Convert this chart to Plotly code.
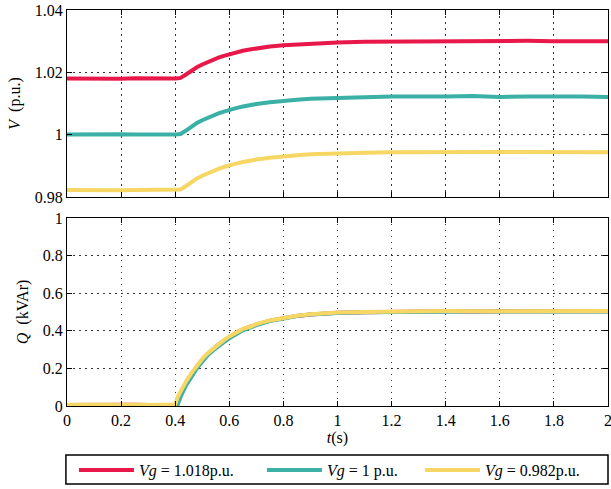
import plotly.graph_objects as go

t = [0, 0.05, 0.1, 0.15, 0.2, 0.25, 0.3, 0.35, 0.4, 0.41, 0.42, 0.44, 0.46, 0.48, 0.5,
     0.52, 0.54, 0.56, 0.58, 0.6, 0.625, 0.65, 0.675, 0.7, 0.75, 0.8, 0.85, 0.9, 0.95, 1.0,
     1.1, 1.2, 1.3, 1.4, 1.5, 1.6, 1.7, 1.8, 1.9, 2.0]

v_red = [1.0180, 1.0179, 1.0181, 1.0180, 1.0179, 1.0181, 1.0180, 1.0179, 1.0180, 1.0181,
         1.0182, 1.0193, 1.0205, 1.0216, 1.0225, 1.0233, 1.0241, 1.0247, 1.0253, 1.0258,
         1.0264, 1.0269, 1.0273, 1.0277, 1.0283, 1.0287, 1.0290, 1.0293, 1.0295, 1.0296,
         1.0298, 1.0299, 1.0300, 1.0301, 1.0300, 1.0300, 1.0301, 1.0300, 1.0301, 1.0300]
v_green = [1.0000, 1.0001, 0.9999, 1.0000, 1.0001, 1.0000, 0.9999, 1.0000, 1.0000, 1.0001,
           1.0002, 1.0013, 1.0026, 1.0037, 1.0046, 1.0054, 1.0062, 1.0068, 1.0074, 1.0080,
           1.0085, 1.0090, 1.0095, 1.0098, 1.0104, 1.0109, 1.0112, 1.0115, 1.0117, 1.0118,
           1.0120, 1.0122, 1.0121, 1.0122, 1.0124, 1.0121, 1.0122, 1.0123, 1.0122, 1.0121]
v_yellow = [0.9822, 0.9821, 0.9823, 0.9822, 0.9821, 0.9822, 0.9823, 0.9822, 0.9822, 0.9823,
            0.9824, 0.9835, 0.9848, 0.9859, 0.9868, 0.9876, 0.9884, 0.9890, 0.9896, 0.9902,
            0.9907, 0.9912, 0.9917, 0.9920, 0.9926, 0.9931, 0.9934, 0.9937, 0.9939, 0.9940,
            0.9942, 0.9943, 0.9944, 0.9944, 0.9943, 0.9944, 0.9944, 0.9943, 0.9944, 0.9943]

q_red = [0.005, 0.006, 0.005, 0.006, 0.005, 0.006, 0.005, 0.006, 0.006, 0.03,
         0.07, 0.12, 0.17, 0.21, 0.245, 0.277, 0.302, 0.327, 0.347, 0.367,
         0.388, 0.408, 0.418, 0.433, 0.454, 0.469, 0.479, 0.487, 0.492, 0.496,
         0.499, 0.502, 0.504, 0.504, 0.503, 0.504, 0.505, 0.504, 0.503, 0.504]
q_green = [0.004, 0.005, 0.004, 0.005, 0.004, 0.005, 0.004, 0.005, 0.004, 0.01,
           0.05, 0.11, 0.16, 0.20, 0.235, 0.27, 0.295, 0.32, 0.34, 0.36,
           0.382, 0.402, 0.415, 0.43, 0.452, 0.467, 0.478, 0.486, 0.491, 0.495,
           0.499, 0.501, 0.503, 0.503, 0.502, 0.503, 0.504, 0.503, 0.502, 0.503]
q_yellow = [0.006, 0.007, 0.005, 0.006, 0.007, 0.006, 0.005, 0.006, 0.008, 0.05,
            0.08, 0.13, 0.175, 0.215, 0.25, 0.28, 0.305, 0.33, 0.35, 0.37,
            0.39, 0.41, 0.42, 0.435, 0.455, 0.47, 0.48, 0.488, 0.493, 0.497,
            0.50, 0.503, 0.505, 0.505, 0.504, 0.505, 0.506, 0.505, 0.504, 0.505]

names = ["<i>Vg</i> = 1.018p.u.", "<i>Vg</i> = 1 p.u.", "<i>Vg</i> = 0.982p.u."]
colors = ["#E8194A", "#3AB0A6", "#F7D764"]

v_tick_vals = [0.98, 1.0, 1.02, 1.04]
v_tick_text = ["0.98", "1", "1.02", "1.04"]
q_tick_vals = [0, 0.2, 0.4, 0.6, 0.8, 1.0]
q_tick_text = ["0", "0.2", "0.4", "0.6", "0.8", "1"]
x_tick_vals = [0, 0.2, 0.4, 0.6, 0.8, 1.0, 1.2, 1.4, 1.6, 1.8, 2.0]
x_tick_text = ["0", "0.2", "0.4", "0.6", "0.8", "1", "1.2", "1.4", "1.6", "1.8", "2"]

FONT = "Liberation Serif, Times New Roman, DejaVu Serif, serif"
FS = 16
legend_ids = ["legend", "legend2", "legend3"]
legend_x = [0.0129, 0.3604, 0.6525]

fig = go.Figure()
for vs, qs, nm, c, lid in zip([v_red, v_green, v_yellow], [q_red, q_green, q_yellow],
                              names, colors, legend_ids):
    fig.add_trace(go.Scatter(x=t, y=vs, mode="lines", name=nm, line=dict(color=c, width=4),
                             xaxis="x", yaxis="y", showlegend=True, legend=lid,
                             legendgroup=nm))
    fig.add_trace(go.Scatter(x=t, y=qs, mode="lines", name=nm, line=dict(color=c, width=4),
                             xaxis="x2", yaxis="y2", showlegend=False, legend=lid,
                             legendgroup=nm))

ax_common = dict(showline=True, linecolor="black", linewidth=1, mirror="ticks",
                 ticks="inside", ticklen=5, tickcolor="black", automargin=False,
                 ticklabeloverflow="allow",
                 showgrid=True, gridcolor="rgba(0,0,0,0.8)", griddash="1.5px,4.5px",
                 gridwidth=1,
                 zeroline=False, tickfont=dict(family=FONT, size=FS, color="black"))

leg_common = dict(orientation="h", xanchor="left", y=-0.1616, yanchor="middle",
                  bgcolor="rgba(0,0,0,0)", borderwidth=0, itemwidth=55,
                  font=dict(family=FONT, size=FS, color="black"))

top_bottom = 0.528
fig.update_layout(
    width=611, height=489,
    margin=dict(l=67, r=3, t=10, b=83, autoexpand=False),
    paper_bgcolor="white", plot_bgcolor="white",
    font=dict(family=FONT, size=FS, color="black"),
    xaxis=dict(domain=[0, 1], range=[0, 2], anchor="y", tickvals=x_tick_vals,
               showticklabels=False, **ax_common),
    yaxis=dict(domain=[top_bottom, 1], range=[0.98, 1.04], anchor="x",
               tickvals=v_tick_vals, ticktext=v_tick_text,
               title=dict(text="<i>V</i>  (p.u.)", standoff=10,
                          font=dict(family=FONT, size=FS)), **ax_common),
    xaxis2=dict(domain=[0, 1], range=[0, 2], anchor="y2", tickvals=x_tick_vals,
                ticktext=x_tick_text,
                title=dict(text="<i>t</i>(s)", standoff=2, font=dict(family=FONT, size=FS)),
                **ax_common),
    yaxis2=dict(domain=[0, 0.475], range=[0, 1], anchor="x2",
                tickvals=q_tick_vals, ticktext=q_tick_text,
                title=dict(text="<i>Q</i>  (kVAr)", standoff=10,
                           font=dict(family=FONT, size=FS)), **ax_common),
    legend=dict(x=legend_x[0], **leg_common),
    legend2=dict(x=legend_x[1], **leg_common),
    legend3=dict(x=legend_x[2], **leg_common),
    shapes=[dict(type="rect", xref="paper", yref="paper", x0=-0.002, x1=1.0,
                 y0=-0.1237, y1=-0.197, line=dict(color="black", width=1.5),
                 fillcolor="rgba(0,0,0,0)")],
)

fig.write_html("out.html", config={"displayModeBar": False},
               post_script="document.body.style.margin='0px';")
